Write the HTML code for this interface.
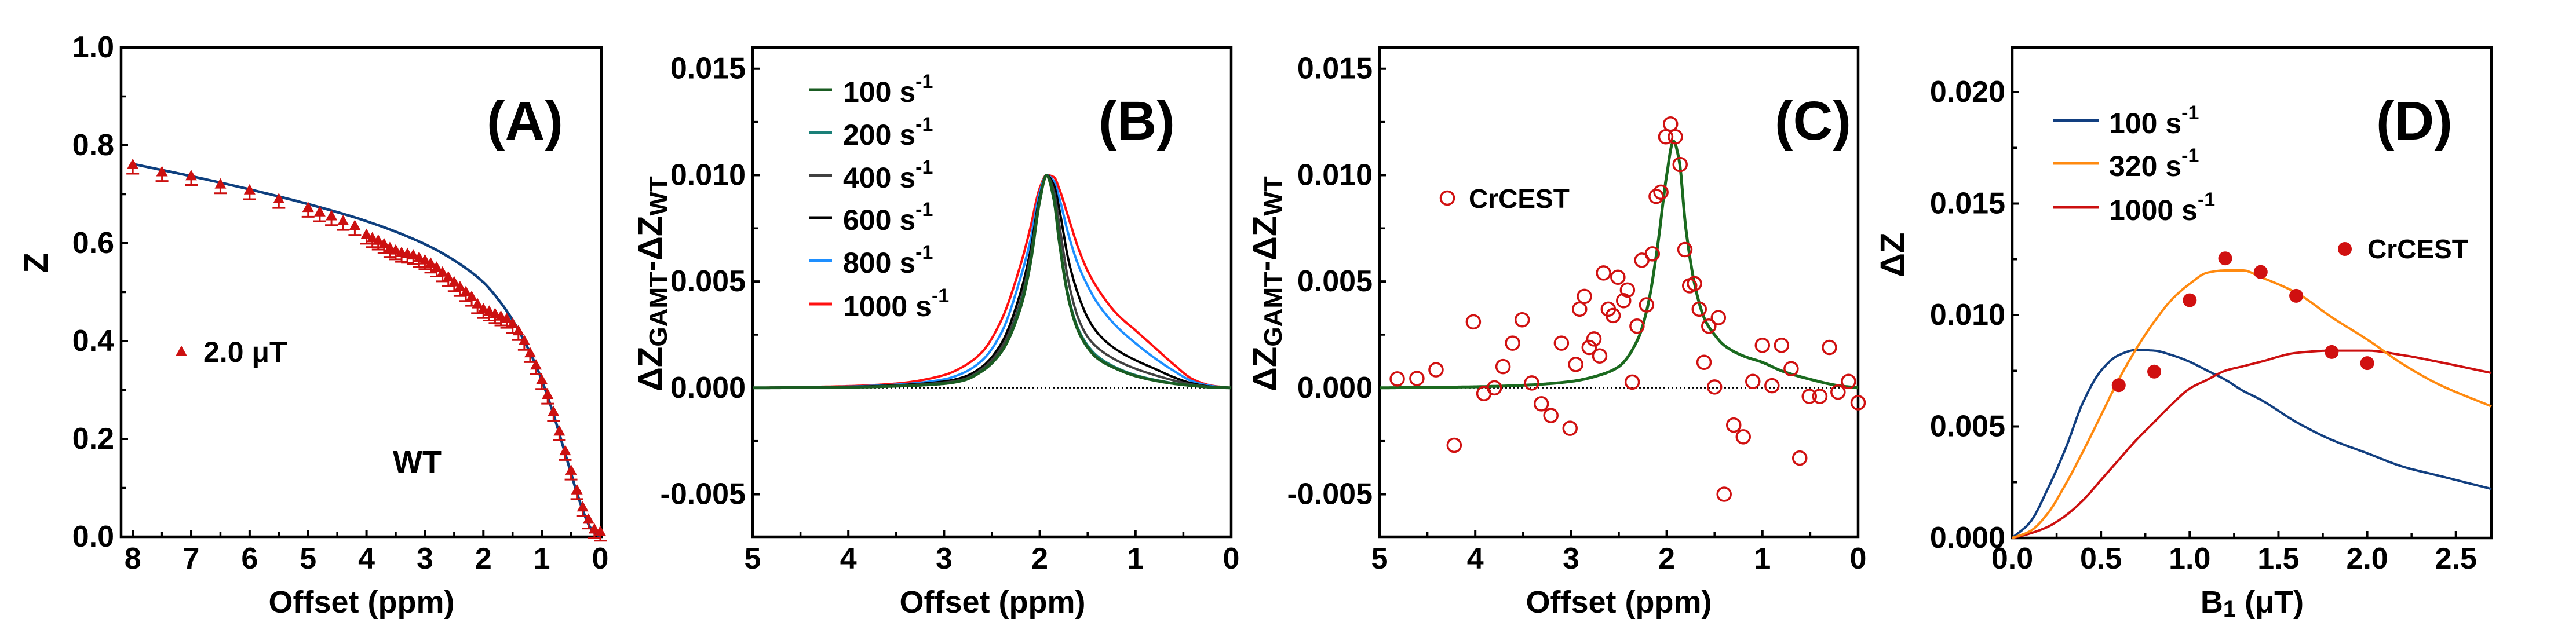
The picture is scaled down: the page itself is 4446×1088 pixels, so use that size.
<!DOCTYPE html>
<html><head><meta charset="utf-8">
<style>
html,body{margin:0;padding:0;background:#fff;}
svg{display:block;font-family:"Liberation Sans",Arial,sans-serif;font-weight:bold;}
</style></head>
<body>
<svg id="fig" width="4446" height="1088" viewBox="0 0 4446 1088" xmlns="http://www.w3.org/2000/svg"></svg>
<script>
// ---------- Panel A data ----------
const aOffsets = [8,7.5,7,6.5,6,5.5,5,4.8,4.6,4.4,4.2,4.0,3.9,3.8,3.7,3.6,3.5,3.4,3.3,3.2,3.1,3.0,2.9,2.8,2.7,2.6,2.5,2.4,2.3,2.2,2.1,2.0,1.9,1.8,1.7,1.6,1.5,1.4,1.3,1.2,1.1,1.0,0.9,0.8,0.7,0.6,0.5,0.4,0.3,0.2,0.1,0];
const aZ = [0.76,0.745,0.737,0.72,0.708,0.69,0.672,0.663,0.655,0.645,0.635,0.617,0.61,0.605,0.598,0.59,0.585,0.58,0.578,0.575,0.57,0.565,0.558,0.55,0.54,0.53,0.52,0.51,0.5,0.49,0.475,0.465,0.46,0.455,0.45,0.445,0.435,0.42,0.4,0.375,0.35,0.32,0.29,0.255,0.215,0.175,0.135,0.095,0.06,0.035,0.015,0.01];
const aErr = 0.018;
const aFitX = [8,7,6,5,4,3,2.5,2,1.7,1.5,1.3,1.1,1.0,0.8,0.6,0.5,0.4,0.3,0.2,0.1,0];
const aFitY = [0.762,0.737,0.71,0.68,0.645,0.598,0.565,0.52,0.478,0.443,0.4,0.35,0.32,0.25,0.17,0.13,0.09,0.055,0.025,0.008,0];
// ---------- Panel B data ----------
const bX = [5,4,3.5,3,2.8,2.6,2.4,2.2,2.1,2.0,1.93,1.85,1.8,1.7,1.6,1.5,1.4,1.2,1.0,0.8,0.6,0.4,0.2,0];
const bLabels = ["100","200","400","600","800","1000"];
const b100 = [0,0.00003,0.00008,0.0002,0.00035,0.0008,0.0017,0.0038,0.0058,0.0088,0.0100,0.0088,0.0070,0.0042,0.0027,0.0019,0.0014,0.0009,0.00056,0.00035,0.0002,0.0001,0.00003,0];
const b200 = [0,0.00003,0.00008,0.0002,0.00036,0.00082,0.0017,0.0039,0.0059,0.0089,0.0100,0.0089,0.0071,0.0043,0.0028,0.0020,0.0015,0.00095,0.0006,0.00038,0.00022,0.0001,0.00003,0];
const b400 = [0,0.00004,0.0001,0.00025,0.0004,0.0009,0.0019,0.0041,0.0061,0.0089,0.0100,0.0092,0.0078,0.0050,0.0033,0.0024,0.0019,0.0013,0.0009,0.0006,0.00035,0.00015,0.00004,0];
const b600 = [0,0.00005,0.00012,0.0003,0.0005,0.0010,0.0021,0.0045,0.0064,0.0090,0.0100,0.0095,0.0085,0.0060,0.0044,0.0033,0.0026,0.0018,0.0013,0.0009,0.0005,0.0002,0.00005,0];
const b800 = [0,0.00006,0.00015,0.0004,0.0007,0.0013,0.0026,0.0052,0.0069,0.0092,0.0100,0.0097,0.0090,0.0072,0.0058,0.0048,0.0040,0.0029,0.0021,0.0014,0.0008,0.0003,0.00008,0];
const b1000 = [0,0.00008,0.0002,0.0006,0.0010,0.0017,0.0032,0.0058,0.0075,0.0094,0.0100,0.0099,0.0094,0.0080,0.0066,0.0055,0.0047,0.0035,0.0027,0.0019,0.0011,0.0004,0.0001,0];
// ---------- Panel C data ----------
const cOffsets = [4.815,4.61,4.41,4.22,4.02,3.91,3.80,3.71,3.61,3.51,3.41,3.31,3.21,3.10,3.01,2.95,2.91,2.86,2.81,2.76,2.70,2.66,2.61,2.56,2.51,2.45,2.41,2.36,2.31,2.26,2.21,2.15,2.11,2.06,2.01,1.96,1.91,1.86,1.81,1.76,1.71,1.66,1.61,1.56,1.50,1.46,1.40,1.30,1.20,1.10,1.00,0.90,0.80,0.70,0.61,0.51,0.40,0.30,0.21,0.10,0.0];
const cValues = [0.00042,0.00044,0.00085,-0.0027,0.0031,-0.00027,0.0,0.001,0.0021,0.0032,0.00023,-0.00075,-0.0013,0.0021,-0.0019,0.0011,0.0037,0.0043,0.0019,0.0023,0.0015,0.0054,0.0037,0.0034,0.0052,0.0041,0.0046,0.00027,0.0029,0.006,0.0039,0.0063,0.009,0.0092,0.0118,0.0124,0.0118,0.0105,0.0065,0.0048,0.0049,0.0037,0.0012,0.0029,0.00004,0.0033,-0.005,-0.00175,-0.0023,0.0003,0.002,0.0001,0.002,0.0009,-0.0033,-0.0004,-0.0004,0.0019,-0.0002,0.0003,-0.0007];
const cFitX = [5,4,3.5,3,2.7,2.5,2.3,2.2,2.1,2.0,1.93,1.87,1.8,1.7,1.6,1.5,1.4,1.2,1.0,0.8,0.5,0.2,0];
const cFitY = [0,0.00005,0.00012,0.0003,0.0006,0.0010,0.0023,0.0038,0.0065,0.0100,0.0116,0.0107,0.0075,0.0047,0.0032,0.0025,0.0020,0.0015,0.0012,0.0008,0.0004,0.0001,0];
// ---------- Panel D data ----------
const dB1 = [0,0.1,0.2,0.3,0.4,0.5,0.6,0.7,0.8,0.9,1.0,1.1,1.2,1.3,1.4,1.6,1.8,2.0,2.2,2.4,2.7];
const d100 = [0,0.0007,0.0022,0.0040,0.0061,0.0075,0.0082,0.00843,0.0084,0.0082,0.0079,0.0075,0.0071,0.0066,0.0062,0.0052,0.0044,0.0038,0.0032,0.0028,0.0022];
const d320 = [0,0.0003,0.0011,0.0024,0.0039,0.0055,0.0071,0.0085,0.0097,0.0107,0.0114,0.0119,0.0120,0.0120,0.0117,0.0110,0.0099,0.0089,0.0078,0.0069,0.0059];
const d1000 = [0,0.0002,0.0005,0.0010,0.0017,0.0026,0.0035,0.0044,0.0052,0.0060,0.0067,0.0071,0.0075,0.0077,0.0079,0.0083,0.0084,0.0084,0.0082,0.0079,0.0074];
const dPtX = [0.6,0.8,1.0,1.2,1.4,1.6,1.8,2.0];
const dPtY = [0.00685,0.00746,0.01066,0.01254,0.01193,0.01086,0.00834,0.00784];

const NS = "http://www.w3.org/2000/svg";
const svg = document.getElementById('fig');
function el(tag, attrs, parent){
  const e = document.createElementNS(NS, tag);
  for (const k in attrs) e.setAttribute(k, attrs[k]);
  (parent||svg).appendChild(e);
  return e;
}
function scale(d0,d1,r0,r1){ return v => r0 + (v-d0)/(d1-d0)*(r1-r0); }
// monotone cubic (Fritsch-Carlson) interpolation in data space, sampled for drawing
function monoSample(xsIn, ysIn, n){
  let pts = xsIn.map((x,i)=>[x,ysIn[i]]).sort((a,b)=>a[0]-b[0]);
  const X=pts.map(p=>p[0]), Y=pts.map(p=>p[1]), N=X.length;
  const d=[], m=new Array(N);
  for(let i=0;i<N-1;i++) d.push((Y[i+1]-Y[i])/(X[i+1]-X[i]));
  m[0]=d[0]; m[N-1]=d[N-2];
  for(let i=1;i<N-1;i++){
    if(d[i-1]*d[i]<=0) m[i]=0;
    else { const h0=X[i]-X[i-1], h1=X[i+1]-X[i]; const w1=2*h1+h0, w2=h1+2*h0; m[i]=(w1+w2)/(w1/d[i-1]+w2/d[i]); }
  }
  const out=[];
  for(let k=0;k<=n;k++){
    const x = X[0]+(X[N-1]-X[0])*k/n;
    let i=0; while(i<N-2 && x>X[i+1]) i++;
    const h=X[i+1]-X[i], t=(x-X[i])/h, t2=t*t, t3=t2*t;
    const y=(2*t3-3*t2+1)*Y[i]+(t3-2*t2+t)*h*m[i]+(-2*t3+3*t2)*Y[i+1]+(t3-t2)*h*m[i+1];
    out.push([x,y]);
  }
  return out;
}
function txt(x,y,s,size,anchor,name){
  const t = el('text',{x:x,y:y,'font-size':size,'text-anchor':anchor||'middle','dominant-baseline':'central',fill:'#000'});
  t.textContent = s;
  
  
  return t;
}
function axes(g, L,R,T,B, xs, ys, xMaj, xMin, yMaj, yMin, xFmt, yFmt, id){
  const box = el('rect',{x:L,y:T,width:R-L,height:B-T,fill:'none',stroke:'#000','stroke-width':4.5},g);
  
  
  xMaj.forEach(v=>{
    const x=xs(v);
    const tk = el('line',{x1:x,x2:x,y1:B,y2:B-12,stroke:'#000','stroke-width':4},g);
    
    
    txt(x,965,xFmt(v),52,'middle',id+'-x-tick-label');
  });
  xMin.forEach(v=>{const x=xs(v); el('line',{x1:x,x2:x,y1:B,y2:B-9,stroke:'#000','stroke-width':3.5},g);});
  yMaj.forEach(v=>{
    const y=ys(v);
    const tk = el('line',{x1:L,x2:L+12,y1:y,y2:y,stroke:'#000','stroke-width':4},g);
    
    
    txt(L-12,y,yFmt(v),52,'end',id+'-y-tick-label');
  });
  yMin.forEach(v=>{const y=ys(v); el('line',{x1:L,x2:L+9,y1:y,y2:y,stroke:'#000','stroke-width':3.5},g);});
}
function range(a,b,s){const r=[];for(let v=a;v<=b+1e-9;v+=s)r.push(Math.round(v*1e6)/1e6);return r;}
function line(g, xsArr, ysArr, xs, ys, color, w, name){
  const pts = monoSample(xsArr, ysArr, 400).map(p=>xs(p[0]).toFixed(1)+","+ys(p[1]).toFixed(1));
  const p = el('path',{d:"M"+pts.join("L"),fill:'none',stroke:color,'stroke-width':w,'stroke-linejoin':'round'},g);
  
  
  return p;
}
function rotTitle(x,y,parts,name){
  const t = el('text',{x:0,y:0,'font-size':58,'text-anchor':'middle','dominant-baseline':'central',transform:`translate(${x},${y}) rotate(-90)`});
  
  
  parts.forEach(p=>{
    const s = el('tspan',p.sub?{'font-size':44,dy:p.dy}:{dy:p.dy||0},t);
    s.textContent=p.t;
  });
}
function supLegend(x,y,num,name){
  const t = el('text',{x:x,y:y,'font-size':50,'dominant-baseline':'central'});
  
  
  const a = el('tspan',{},t); a.textContent = num+" s";
  const b = el('tspan',{'font-size':34,dy:-18},t); b.textContent = "-1";
}

// ================= Panel A =================
(function(){
  const g = el('g',{});  
  const L=209,R=1038,T=82,B=927;
  const xs=scale(8.2,-0.02,L,R), ys=scale(0,1,B,T);
  axes(g,L,R,T,B,xs,ys,range(0,8,1),range(0.5,7.5,1),range(0,1,0.2),range(0.1,0.9,0.2),v=>String(v),v=>v.toFixed(1),'panel-a');
  line(g,aFitX,aFitY,xs,ys,'#0e3f7e',4.5,'panel-a-fit-curve');
  aOffsets.forEach((o,i)=>{
    const x=xs(o), y=ys(aZ[i]), y2=ys(aZ[i]-aErr);
    const eb = el('path',{d:`M${x},${y}V${y2}M${x-11},${y2}H${x+11}`,stroke:'#cc1010','stroke-width':3,fill:'none'},g);
    
    
    const tri = el('path',{d:`M${x},${y-11}L${x+10},${y+7}L${x-10},${y+7}Z`,fill:'#cc1010'},g);
    
    
  });
  const lt = el('path',{d:'M313,597L323,615L303,615Z',fill:'#cc1010'},g);
  
  
  txt(351,608,'2.0 μT',50,'start','panel-a-legend-label');
  txt(720,798,'WT',54,'middle','panel-a-wt-label');
  txt(906,209,'(A)',95,'middle','panel-a-letter');
  txt(624,1040,'Offset (ppm)',54,'middle','panel-a-x-axis-title');
  rotTitle(62,454,[{t:'Z'}],'panel-a-y-axis-title');
})();

// ================= Panel B =================
(function(){
  const g = el('g',{});  
  const L=1299,R=2125,T=82,B=927;
  const xs=scale(5,0,L,R), ys=scale(-0.007,0.016,B,T);
  axes(g,L,R,T,B,xs,ys,range(0,5,1),range(0.5,4.5,1),[-0.005,0,0.005,0.010,0.015],[-0.0025,0.0025,0.0075,0.0125],v=>String(v),v=>v.toFixed(3),'panel-b');
  const z = el('line',{x1:L,x2:R,y1:ys(0),y2:ys(0),stroke:'#000','stroke-width':2,'stroke-dasharray':'3,4'},g);
   
  const series=[b1000,b800,b600,b400,b200,b100];
  const cols=['#ff1010','#1e8fff','#000000','#404040','#1a8078','#1a5c22'];
  const names=['1000','800','600','400','200','100'];
  series.forEach((s,i)=>line(g,bX,s,xs,ys,cols[i],i==5?5:4,'panel-b-curve-'+names[i]));
  const legCols=['#1a5c22','#1a8078','#404040','#000000','#1e8fff','#ff1010'];
  const rows=[155,229,303,376,450,525];
  bLabels.forEach((lab,i)=>{
    const ln = el('line',{x1:1396,x2:1436,y1:rows[i],y2:rows[i],stroke:legCols[i],'stroke-width':5},g);
     
    supLegend(1455,rows[i]+4,lab,'panel-b-legend-label');
  });
  txt(1962,209,'(B)',95,'middle','panel-b-letter');
  txt(1713,1040,'Offset (ppm)',54,'middle','panel-b-x-axis-title');
  rotTitle(1122,490,[{t:'ΔZ'},{t:'GAMT',sub:1,dy:14},{t:'-ΔZ',dy:-14},{t:'WT',sub:1,dy:14}],'panel-b-y-axis-title');
})();

// ================= Panel C =================
(function(){
  const g = el('g',{});  
  const L=2381,R=3207,T=82,B=927;
  const xs=scale(5,0,L,R), ys=scale(-0.007,0.016,B,T);
  axes(g,L,R,T,B,xs,ys,range(0,5,1),range(0.5,4.5,1),[-0.005,0,0.005,0.010,0.015],[-0.0025,0.0025,0.0075,0.0125],v=>String(v),v=>v.toFixed(3),'panel-c');
  const z = el('line',{x1:L,x2:R,y1:ys(0),y2:ys(0),stroke:'#000','stroke-width':2,'stroke-dasharray':'3,4'},g);
   
  line(g,cFitX,cFitY,xs,ys,'#1b6a1f',5,'panel-c-fit-curve');
  cOffsets.forEach((o,i)=>{
    const c = el('circle',{cx:xs(o),cy:ys(cValues[i]),r:11.5,fill:'none',stroke:'#d01010','stroke-width':3.5},g);
    
    
  });
  const lc = el('circle',{cx:2498,cy:342,r:11.5,fill:'none',stroke:'#d01010','stroke-width':3.5},g);
   
  txt(2535,343,'CrCEST',46,'start','panel-c-legend-label');
  txt(3129,209,'(C)',95,'middle','panel-c-letter');
  txt(2794,1040,'Offset (ppm)',54,'middle','panel-c-x-axis-title');
  rotTitle(2183,490,[{t:'ΔZ'},{t:'GAMT',sub:1,dy:14},{t:'-ΔZ',dy:-14},{t:'WT',sub:1,dy:14}],'panel-c-y-axis-title');
})();

// ================= Panel D =================
(function(){
  const g = el('g',{});  
  const L=3473,R=4300,T=82,B=929;
  const xs=scale(0,2.7,L,R), ys=scale(0,0.022,B,T);
  axes(g,L,R,T,B,xs,ys,range(0,2.5,0.5),range(0.25,2.5,0.5),[0,0.005,0.010,0.015,0.020],[0.0025,0.0075,0.0125,0.0175],v=>v.toFixed(1),v=>v.toFixed(3),'panel-d');
  line(g,dB1,d100,xs,ys,'#123f80',4,'panel-d-curve-100');
  line(g,dB1,d1000,xs,ys,'#cc1010',4,'panel-d-curve-1000');
  line(g,dB1,d320,xs,ys,'#ff8a10',4,'panel-d-curve-320');
  dPtX.forEach((b,i)=>{
    const c = el('circle',{cx:xs(b),cy:ys(dPtY[i]),r:12,fill:'#d01010'},g);
    
    
  });
  const dl=[['100','#123f80',213],['320','#ff8a10',287],['1000','#cc1010',363]];
  dl.forEach(r=>{
    const ln = el('line',{x1:3543,x2:3623,y1:r[2]-5,y2:r[2]-5,stroke:r[1],'stroke-width':5},g);
     
    supLegend(3640,r[2],r[0],'panel-d-legend-label');
  });
  const lc = el('circle',{cx:4047,cy:430,r:12,fill:'#d01010'},g);
   
  txt(4086,430,'CrCEST',46,'start','panel-d-legend-label');
  txt(4167,209,'(D)',95,'middle','panel-d-letter');
  const xt = el('text',{x:3887,y:1040,'font-size':54,'text-anchor':'middle','dominant-baseline':'central'});
   
  const a=el('tspan',{},xt); a.textContent='B';
  const b=el('tspan',{'font-size':40,dy:12},xt); b.textContent='1';
  const c=el('tspan',{dy:-12},xt); c.textContent=' (μT)';
  rotTitle(3266,440,[{t:'ΔZ'}],'panel-d-y-axis-title');
})();
</script>
</body></html>
